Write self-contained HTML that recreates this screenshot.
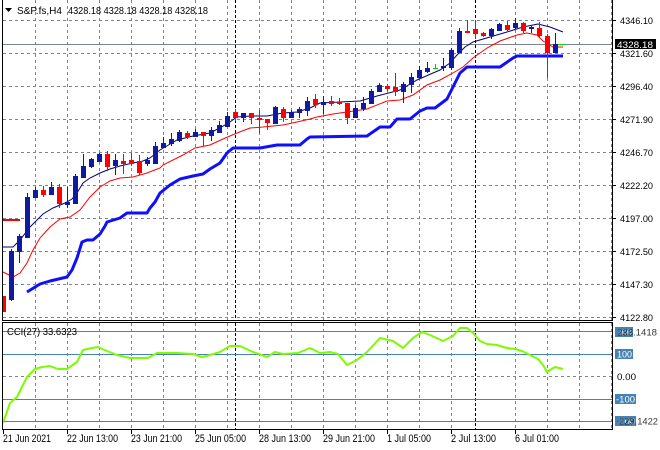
<!DOCTYPE html>
<html><head><meta charset="utf-8"><style>
html,body{margin:0;padding:0;background:#fff;width:660px;height:450px;overflow:hidden}
svg{display:block}
text{font-family:"Liberation Sans",sans-serif}
</style></head><body>
<svg width="660" height="450" viewBox="0 0 660 450" xmlns="http://www.w3.org/2000/svg">
<rect width="660" height="450" fill="#fff"/>
<!-- horizontal grid main -->
<g stroke="#7a8591" stroke-width="1" stroke-dasharray="3,3" shape-rendering="crispEdges">
<line x1="3" y1="20.5" x2="612" y2="20.5"/><line x1="3" y1="53.5" x2="612" y2="53.5"/><line x1="3" y1="86.5" x2="612" y2="86.5"/><line x1="3" y1="119.5" x2="612" y2="119.5"/><line x1="3" y1="152.5" x2="612" y2="152.5"/><line x1="3" y1="185.5" x2="612" y2="185.5"/><line x1="3" y1="218.5" x2="612" y2="218.5"/><line x1="3" y1="251.5" x2="612" y2="251.5"/><line x1="3" y1="284.5" x2="612" y2="284.5"/><line x1="3" y1="317.5" x2="612" y2="317.5"/>
<line x1="3" y1="376.5" x2="612" y2="376.5"/>
</g>
<!-- vertical grid -->
<g stroke="#7a8591" stroke-width="1" stroke-dasharray="3,3" shape-rendering="crispEdges">
<line x1="35.5" y1="0" x2="35.5" y2="320"/><line x1="67.5" y1="0" x2="67.5" y2="320"/><line x1="99.5" y1="0" x2="99.5" y2="320"/><line x1="131.5" y1="0" x2="131.5" y2="320"/><line x1="163.5" y1="0" x2="163.5" y2="320"/><line x1="195.5" y1="0" x2="195.5" y2="320"/><line x1="227.5" y1="0" x2="227.5" y2="320"/><line x1="259.5" y1="0" x2="259.5" y2="320"/><line x1="291.5" y1="0" x2="291.5" y2="320"/><line x1="323.5" y1="0" x2="323.5" y2="320"/><line x1="355.5" y1="0" x2="355.5" y2="320"/><line x1="387.5" y1="0" x2="387.5" y2="320"/><line x1="419.5" y1="0" x2="419.5" y2="320"/><line x1="451.5" y1="0" x2="451.5" y2="320"/><line x1="515.5" y1="0" x2="515.5" y2="320"/><line x1="547.5" y1="0" x2="547.5" y2="320"/><line x1="579.5" y1="0" x2="579.5" y2="320"/><line x1="611.5" y1="0" x2="611.5" y2="320"/>
<line x1="35.5" y1="323" x2="35.5" y2="429"/><line x1="67.5" y1="323" x2="67.5" y2="429"/><line x1="99.5" y1="323" x2="99.5" y2="429"/><line x1="131.5" y1="323" x2="131.5" y2="429"/><line x1="163.5" y1="323" x2="163.5" y2="429"/><line x1="195.5" y1="323" x2="195.5" y2="429"/><line x1="227.5" y1="323" x2="227.5" y2="429"/><line x1="259.5" y1="323" x2="259.5" y2="429"/><line x1="291.5" y1="323" x2="291.5" y2="429"/><line x1="323.5" y1="323" x2="323.5" y2="429"/><line x1="355.5" y1="323" x2="355.5" y2="429"/><line x1="387.5" y1="323" x2="387.5" y2="429"/><line x1="419.5" y1="323" x2="419.5" y2="429"/><line x1="451.5" y1="323" x2="451.5" y2="429"/><line x1="515.5" y1="323" x2="515.5" y2="429"/><line x1="547.5" y1="323" x2="547.5" y2="429"/><line x1="579.5" y1="323" x2="579.5" y2="429"/><line x1="611.5" y1="323" x2="611.5" y2="429"/>
</g>
<!-- period separators -->
<g stroke="#000" stroke-width="1" stroke-dasharray="3,2" shape-rendering="crispEdges">
<line x1="235.5" y1="0" x2="235.5" y2="320"/><line x1="475.5" y1="0" x2="475.5" y2="320"/>
<line x1="235.5" y1="323" x2="235.5" y2="429"/><line x1="475.5" y1="323" x2="475.5" y2="429"/>
</g>
<!-- CCI levels -->
<g stroke="#4682b4" stroke-width="1" shape-rendering="crispEdges">
<line x1="3" y1="331.5" x2="612" y2="331.5"/><line x1="3" y1="354.5" x2="612" y2="354.5"/><line x1="3" y1="399.5" x2="612" y2="399.5"/><line x1="3" y1="421.5" x2="612" y2="421.5"/>
</g>
<!-- current price line -->
<line x1="3" y1="44.5" x2="612" y2="44.5" stroke="#7a8591" stroke-width="1" shape-rendering="crispEdges"/>

<!-- thick blue line -->
<polyline fill="none" stroke="#0f0fff" stroke-width="3" stroke-linejoin="round" points="27,292 40,284 50,281 67,277 72,270 77,258 82,242 87,240 93,240 100,234 105,226 107,222 120,218 127,213 147,213 150,208 155,202 160,193 170,185 180,179 193,176 203,174 210,169 220,163 227,153 233,148 260,148 277,145 300,145 307,139 310,137 367,136 380,127 390,127 397,119 410,119 420,111 427,108 435,108 447,99 455,83 460,73 467,67 500,67 513,58 517,56 563,56"/>
<!-- red MA -->
<line x1="3" y1="220" x2="20" y2="220" stroke="#ff0000" stroke-width="2"/>
<polyline fill="none" stroke="#ff0000" stroke-width="1" points="3,272 13,277 20,273 27,263 33,250 40,238 50,227 60,219 70,217 80,210 90,197 100,187 110,181 120,178 133,177 147,173 160,168 163,165 183,155 195,148 210,145 223,139 237,133 250,128 263,127 283,125 297,122 310,119 317,117 333,114 347,112 367,109 387,101 400,100 413,95 427,85 440,80 453,73 463,67 473,58 487,48 500,41 517,35 527,33 537,35 543,41 553,47 563,47"/>
<!-- navy MA -->
<polyline fill="none" stroke="#000080" stroke-width="1" points="3,247 13,247 20,240 30,227 37,220 43,214 53,208 65,203 72,199 77,193 83,183 90,178 100,173 110,169 120,166 133,163 143,161 150,158 160,150 177,140 193,136 210,133 227,124 237,117 250,116 267,116 283,113 297,112 310,108 320,103 340,102 360,101 377,96 400,90 417,80 433,73 440,70 450,63 457,55 465,47 473,42 490,37 507,32 523,27 538,24 550,27 563,32"/>
<line x1="558" y1="44.5" x2="566" y2="44.5" stroke="#00e000" stroke-width="1"/>

<!-- blue candles -->
<g fill="#0f1aa0" shape-rendering="crispEdges">
<rect x="11" y="249" width="1" height="52"/><rect x="9" y="251" width="5" height="49"/>
<rect x="19" y="234" width="1" height="29"/><rect x="17" y="236" width="5" height="16"/>
<rect x="27" y="193" width="1" height="45"/><rect x="25" y="197" width="5" height="41"/>
<rect x="35" y="187" width="1" height="11"/><rect x="33" y="190" width="5" height="8"/>
<rect x="51" y="182" width="1" height="13"/><rect x="49" y="187" width="5" height="8"/>
<rect x="67" y="187" width="1" height="21"/><rect x="65" y="202" width="5" height="3"/>
<rect x="75" y="174" width="1" height="30"/><rect x="73" y="176" width="5" height="28"/>
<rect x="83" y="154" width="1" height="24"/><rect x="81" y="166" width="5" height="12"/>
<rect x="91" y="158" width="1" height="10"/><rect x="89" y="159" width="5" height="8"/>
<rect x="99" y="153" width="1" height="9"/><rect x="97" y="154" width="5" height="8"/>
<rect x="115" y="154" width="1" height="21"/><rect x="113" y="160" width="5" height="6"/>
<rect x="147" y="157" width="1" height="9"/><rect x="145" y="160" width="5" height="4"/>
<rect x="155" y="142" width="1" height="22"/><rect x="153" y="146" width="5" height="18"/>
<rect x="163" y="137" width="1" height="11"/><rect x="161" y="143" width="5" height="5"/>
<rect x="171" y="133" width="1" height="13"/><rect x="169" y="139" width="5" height="5"/>
<rect x="179" y="130" width="1" height="12"/><rect x="177" y="132" width="5" height="9"/>
<rect x="195" y="129" width="1" height="8"/><rect x="193" y="132" width="5" height="5"/>
<rect x="211" y="127" width="1" height="14"/><rect x="209" y="130" width="5" height="6"/>
<rect x="219" y="121" width="1" height="12"/><rect x="217" y="125" width="5" height="8"/>
<rect x="227" y="112" width="1" height="15"/><rect x="225" y="116" width="5" height="11"/>
<rect x="243" y="113" width="1" height="9"/><rect x="241" y="113" width="5" height="5"/>
<rect x="275" y="106" width="1" height="18"/><rect x="273" y="107" width="5" height="17"/>
<rect x="291" y="110" width="1" height="8"/><rect x="289" y="112" width="5" height="6"/>
<rect x="299" y="107" width="1" height="11"/><rect x="297" y="109" width="5" height="4"/>
<rect x="307" y="97" width="1" height="19"/><rect x="305" y="101" width="5" height="10"/>
<rect x="323" y="96" width="1" height="18"/><rect x="321" y="102" width="5" height="3"/>
<rect x="355" y="105" width="1" height="13"/><rect x="353" y="108" width="5" height="10"/>
<rect x="363" y="97" width="1" height="14"/><rect x="361" y="103" width="5" height="6"/>
<rect x="371" y="89" width="1" height="15"/><rect x="369" y="91" width="5" height="13"/>
<rect x="379" y="83" width="1" height="9"/><rect x="377" y="85" width="5" height="7"/>
<rect x="403" y="82" width="1" height="21"/><rect x="401" y="84" width="5" height="8"/>
<rect x="411" y="73" width="1" height="20"/><rect x="409" y="77" width="5" height="8"/>
<rect x="419" y="66" width="1" height="12"/><rect x="417" y="70" width="5" height="8"/>
<rect x="427" y="62" width="1" height="11"/><rect x="425" y="68" width="5" height="4"/>
<rect x="443" y="58" width="1" height="13"/><rect x="441" y="66" width="5" height="2"/>
<rect x="451" y="48" width="1" height="22"/><rect x="449" y="50" width="5" height="18"/>
<rect x="459" y="28" width="1" height="25"/><rect x="457" y="31" width="5" height="22"/>
<rect x="491" y="28" width="1" height="11"/><rect x="489" y="29" width="5" height="7"/>
<rect x="499" y="23" width="1" height="8"/><rect x="497" y="24" width="5" height="7"/>
<rect x="515" y="18" width="1" height="11"/><rect x="513" y="23" width="5" height="5"/>
<rect x="531" y="26" width="1" height="7"/><rect x="529" y="27" width="5" height="2"/>
<rect x="555" y="33" width="1" height="20"/><rect x="553" y="44" width="5" height="9"/>
</g>
<!-- red candles -->
<g fill="#ff0000" shape-rendering="crispEdges">
<rect x="3" y="296" width="3" height="16"/>
<rect x="43" y="186" width="1" height="11"/><rect x="41" y="190" width="5" height="5"/>
<rect x="59" y="184" width="1" height="24"/><rect x="57" y="187" width="5" height="17"/>
<rect x="107" y="151" width="1" height="20"/><rect x="105" y="154" width="5" height="13"/>
<rect x="123" y="154" width="1" height="20"/><rect x="121" y="161" width="5" height="3"/>
<rect x="131" y="153" width="1" height="13"/><rect x="129" y="160" width="5" height="4"/>
<rect x="139" y="155" width="1" height="20"/><rect x="137" y="161" width="5" height="12"/>
<rect x="187" y="131" width="1" height="8"/><rect x="185" y="133" width="5" height="4"/>
<rect x="203" y="132" width="1" height="14"/><rect x="201" y="132" width="5" height="4"/>
<rect x="235" y="109" width="1" height="12"/><rect x="233" y="112" width="5" height="6"/>
<rect x="251" y="113" width="1" height="11"/><rect x="249" y="113" width="5" height="5"/>
<rect x="259" y="110" width="1" height="23"/><rect x="257" y="118" width="5" height="2"/>
<rect x="267" y="119" width="1" height="11"/><rect x="265" y="119" width="5" height="4"/>
<rect x="283" y="107" width="1" height="15"/><rect x="281" y="109" width="5" height="9"/>
<rect x="315" y="94" width="1" height="14"/><rect x="313" y="99" width="5" height="6"/>
<rect x="331" y="96" width="1" height="10"/><rect x="329" y="101" width="5" height="3"/>
<rect x="339" y="98" width="1" height="7"/><rect x="337" y="102" width="5" height="2"/>
<rect x="347" y="103" width="1" height="21"/><rect x="345" y="103" width="5" height="15"/>
<rect x="387" y="84" width="1" height="7"/><rect x="385" y="86" width="5" height="3"/>
<rect x="395" y="73" width="1" height="23"/><rect x="393" y="87" width="5" height="5"/>
<rect x="467" y="20" width="1" height="13"/><rect x="465" y="31" width="5" height="2"/>
<rect x="475" y="20" width="1" height="19"/><rect x="473" y="29" width="5" height="5"/>
<rect x="483" y="32" width="1" height="5"/><rect x="481" y="33" width="5" height="3"/>
<rect x="507" y="21" width="1" height="10"/><rect x="505" y="25" width="5" height="5"/>
<rect x="523" y="22" width="1" height="11"/><rect x="521" y="23" width="5" height="8"/>
<rect x="539" y="22" width="1" height="16"/><rect x="537" y="28" width="5" height="8"/>
<rect x="547" y="34" width="1" height="44"/><rect x="545" y="36" width="5" height="17"/>
</g>
<g fill="#00d000" shape-rendering="crispEdges">
<rect x="435" y="64" width="1" height="5"/><rect x="433" y="68" width="5" height="1"/>
</g>

<!-- CCI line -->
<polyline fill="none" stroke="#7cfc00" stroke-width="2" stroke-linejoin="round" points="3,423 10,403 17,397 27,377 35,369 42,367 50,366 58,369 67,369 77,362 83,350 92,348 98,347 107,351 117,355 130,358 148,358 157,353 177,353 193,354 202,357 210,355 220,352 230,346 240,346 253,352 267,357 275,352 283,354 298,353 310,348 320,353 330,352 338,354 347,365 357,360 367,352 380,338 393,341 403,348 413,338 422,332 430,335 443,341 453,336 460,328 467,328 473,333 480,341 487,344 497,345 507,348 515,349 522,351 530,355 538,359 543,365 547,372 550,370 555,367 563,369"/>

<!-- frames -->
<g stroke="#000" stroke-width="1" fill="none" shape-rendering="crispEdges">
<line x1="2.5" y1="0" x2="2.5" y2="321"/>
<line x1="612.5" y1="0" x2="612.5" y2="321"/>
<line x1="2" y1="320.5" x2="613" y2="320.5"/>
<rect x="2.5" y="322.5" width="610" height="107"/>
</g>
<!-- axis ticks -->
<g stroke="#000" stroke-width="1" shape-rendering="crispEdges">
<line x1="613" y1="20.5" x2="616" y2="20.5"/><line x1="613" y1="53.5" x2="616" y2="53.5"/><line x1="613" y1="86.5" x2="616" y2="86.5"/><line x1="613" y1="119.5" x2="616" y2="119.5"/><line x1="613" y1="152.5" x2="616" y2="152.5"/><line x1="613" y1="185.5" x2="616" y2="185.5"/><line x1="613" y1="218.5" x2="616" y2="218.5"/><line x1="613" y1="251.5" x2="616" y2="251.5"/><line x1="613" y1="284.5" x2="616" y2="284.5"/><line x1="613" y1="317.5" x2="616" y2="317.5"/>
<line x1="3.5" y1="430" x2="3.5" y2="434"/><line x1="67.5" y1="430" x2="67.5" y2="434"/><line x1="131.5" y1="430" x2="131.5" y2="434"/><line x1="195.5" y1="430" x2="195.5" y2="434"/><line x1="259.5" y1="430" x2="259.5" y2="434"/><line x1="323.5" y1="430" x2="323.5" y2="434"/><line x1="387.5" y1="430" x2="387.5" y2="434"/><line x1="451.5" y1="430" x2="451.5" y2="434"/><line x1="515.5" y1="430" x2="515.5" y2="434"/>
</g>

<!-- title -->
<polygon points="5,8 12,8 8.5,12" fill="#000"/>
<text x="17" y="14" font-size="10" textLength="45" lengthAdjust="spacingAndGlyphs" fill="#000">S&amp;P.fs,H4</text>
<text x="68" y="14" font-size="10" textLength="140" lengthAdjust="spacingAndGlyphs" fill="#000">4328.18 4328.18 4328.18 4328.18</text>
<text x="7" y="335" font-size="10" textLength="70" lengthAdjust="spacingAndGlyphs" fill="#000">CCI(27) 33.6323</text>

<!-- price axis labels -->
<g font-size="9.5" fill="#000">
<text x="620" y="24" textLength="33" lengthAdjust="spacingAndGlyphs">4346.10</text>
<text x="620" y="57" textLength="33" lengthAdjust="spacingAndGlyphs">4321.60</text>
<text x="620" y="90" textLength="33" lengthAdjust="spacingAndGlyphs">4296.40</text>
<text x="620" y="123" textLength="33" lengthAdjust="spacingAndGlyphs">4271.90</text>
<text x="620" y="156" textLength="33" lengthAdjust="spacingAndGlyphs">4246.70</text>
<text x="620" y="189" textLength="33" lengthAdjust="spacingAndGlyphs">4222.20</text>
<text x="620" y="222" textLength="33" lengthAdjust="spacingAndGlyphs">4197.00</text>
<text x="620" y="255" textLength="33" lengthAdjust="spacingAndGlyphs">4172.50</text>
<text x="620" y="288" textLength="33" lengthAdjust="spacingAndGlyphs">4147.30</text>
<text x="620" y="321" textLength="33" lengthAdjust="spacingAndGlyphs">4122.80</text>
</g>
<rect x="615" y="39" width="41" height="10" fill="#000"/>
<text x="617" y="48" font-size="9.5" fill="#fff" textLength="36" lengthAdjust="spacingAndGlyphs">4328.18</text>

<!-- CCI axis labels -->
<g font-size="9.5">
<rect x="615" y="327" width="18" height="10" fill="#4682b4"/>
<text x="617" y="335.5" fill="#fff" textLength="15" lengthAdjust="spacingAndGlyphs">200</text>
<text x="617" y="335.5" fill="#000" textLength="40" lengthAdjust="spacingAndGlyphs" opacity="0.8">233.1418</text>
<rect x="615" y="349" width="18" height="10" fill="#4682b4"/>
<text x="617" y="357.5" fill="#fff" textLength="15" lengthAdjust="spacingAndGlyphs">100</text>
<text x="617" y="380" fill="#000" textLength="19" lengthAdjust="spacingAndGlyphs">0.00</text>
<rect x="615" y="394" width="21" height="10" fill="#4682b4"/>
<text x="616" y="402.5" fill="#fff" textLength="19" lengthAdjust="spacingAndGlyphs">-100</text>
<rect x="615" y="416" width="21" height="10" fill="#4682b4"/>
<text x="616" y="424.5" fill="#fff" textLength="19" lengthAdjust="spacingAndGlyphs">-200</text>
<text x="616" y="424.5" fill="#000" textLength="42" lengthAdjust="spacingAndGlyphs" opacity="0.8">-229.1422</text>
</g>

<!-- time labels -->
<g font-size="11" fill="#000">
<text x="3" y="442" textLength="48" lengthAdjust="spacingAndGlyphs">21 Jun 2021</text>
<text x="67" y="442" textLength="51" lengthAdjust="spacingAndGlyphs">22 Jun 13:00</text>
<text x="131" y="442" textLength="51" lengthAdjust="spacingAndGlyphs">23 Jun 21:00</text>
<text x="195" y="442" textLength="51" lengthAdjust="spacingAndGlyphs">25 Jun 05:00</text>
<text x="259" y="442" textLength="52" lengthAdjust="spacingAndGlyphs">28 Jun 13:00</text>
<text x="323" y="442" textLength="52" lengthAdjust="spacingAndGlyphs">29 Jun 21:00</text>
<text x="387" y="442" textLength="44" lengthAdjust="spacingAndGlyphs">1 Jul 05:00</text>
<text x="451" y="442" textLength="45" lengthAdjust="spacingAndGlyphs">2 Jul 13:00</text>
<text x="515" y="442" textLength="44" lengthAdjust="spacingAndGlyphs">6 Jul 01:00</text>
</g>
</svg>
</body></html>
